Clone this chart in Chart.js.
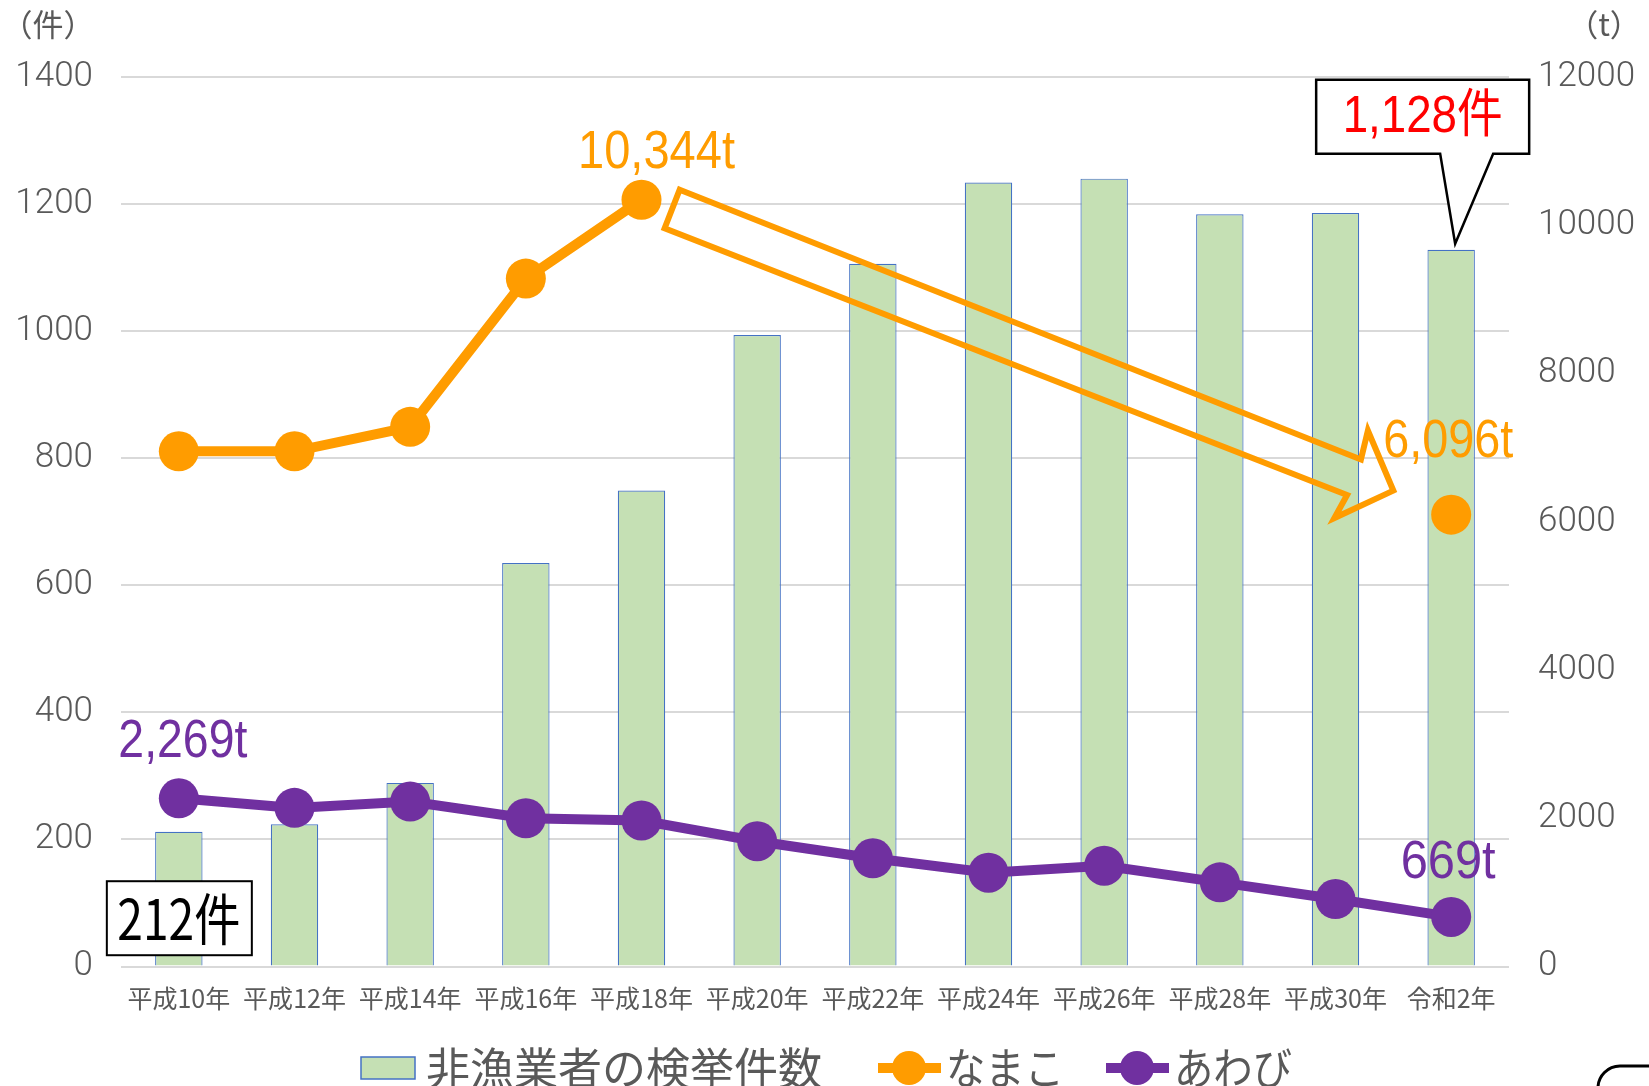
<!DOCTYPE html>
<html lang="ja">
<head>
<meta charset="utf-8">
<title>非漁業者の検挙件数と漁獲量の推移</title>
<script src="https://cdn.jsdelivr.net/npm/chart.js@4.4.1/dist/chart.umd.min.js"></script>
<style>
  html, body { margin: 0; padding: 0; background: #fff; }
  #wrap { width: 1649px; height: 1086px; position: relative; }
</style>
</head>
<body>
<div id="wrap"><canvas id="kenkyoChart"></canvas></div>
<script>
const labels = ["平成10年", "平成12年", "平成14年", "平成16年", "平成18年", "平成20年",
  "平成22年", "平成24年", "平成26年", "平成28年", "平成30年", "令和2年"];

// 非漁業者の検挙件数 (件, left axis)
const kenkyo = [212, 224, 289, 635, 749, 994, 1106, 1234, 1240, 1184, 1186, 1128];
// 漁獲量 (t, right axis)
const namako = [6950, 6950, 7280, 9280, 10344, null, null, null, null, null, null, 6096];
const awabi = [2269, 2140, 2225, 2000, 1970, 1690, 1460, 1265, 1360, 1135, 910, 669];

const leftTicks = [0, 200, 400, 600, 800, 1000, 1200, 1400];
const rightTicks = [0, 2000, 4000, 6000, 8000, 10000, 12000];

const GREEN = "#C5E0B4";
const BLUE = "#4472C4";
const ORANGE = "#FF9C00";
const PURPLE = "#7030A0";
const GRAY = "#595959";
const JP = "'Noto Sans CJK JP', sans-serif";
const NUM = "'Liberation Sans', 'Noto Sans CJK JP', sans-serif";

const fmt = (v) => v.toLocaleString("en-US");

function txt(ctx, s, x, y, size, color, w, family, align) {
  ctx.save();
  ctx.font = size + "px " + (family || NUM);
  ctx.fillStyle = color;
  ctx.textAlign = align || "center";
  ctx.textBaseline = "middle";
  if (w) ctx.fillText(s, x, y, w);
  else ctx.fillText(s, x, y);
  ctx.restore();
}

// arrow, labels and boxes on top of the data
const annotate = {
  id: "annotate",
  afterDatasetsDraw(chart) {
    const ctx = chart.ctx;
    const xs = chart.scales.x, ys = chart.scales.y, y2 = chart.scales.y2;
    const br = chart.getDatasetMeta(0).data;
    const nk = chart.getDatasetMeta(1).data;
    const aw = chart.getDatasetMeta(2).data;

    // hollow arrow (decrease of なまこ)
    const arrow = [[4.33, 10480], [10.22, 6840], [10.28, 7230], [10.50, 6420],
      [9.99, 6050], [10.10, 6360], [4.20, 9960]];
    ctx.save();
    ctx.beginPath();
    arrow.forEach((p, i) => {
      const px = xs.getPixelForValue(p[0]), py = y2.getPixelForValue(p[1]);
      if (i) ctx.lineTo(px, py); else ctx.moveTo(px, py);
    });
    ctx.closePath();
    ctx.strokeStyle = ORANGE;
    ctx.lineWidth = 6;
    ctx.lineJoin = "miter";
    ctx.stroke();
    ctx.restore();

    // value labels
    txt(ctx, fmt(namako[4]) + "t", nk[4].x + 15, nk[4].y - 47, 54, ORANGE, 157);
    txt(ctx, fmt(namako[11]) + "t", nk[11].x - 3, nk[11].y - 73, 54, ORANGE, 130);
    txt(ctx, fmt(awabi[0]) + "t", aw[0].x + 4, aw[0].y - 56, 54, PURPLE, 129);
    txt(ctx, fmt(awabi[11]) + "t", aw[11].x - 3, aw[11].y - 54, 54, PURPLE, 95);

    // 212件 box
    const bx = br[0].x, by = ys.getPixelForValue(76);
    ctx.save();
    ctx.fillStyle = "#fff";
    ctx.fillRect(bx - 72, by - 37, 145, 74);
    ctx.strokeStyle = "#000";
    ctx.lineWidth = 2;
    ctx.strokeRect(bx - 72, by - 37, 145, 74);
    ctx.restore();
    txt(ctx, kenkyo[0] + "件", bx, by + 1, 56, "#000", 123, JP);

    // 1,128件 callout
    const tx = br[11].x + 4, ty = br[11].y - 6;
    const L = tx - 139, R = tx + 74, T = ty - 164, B = ty - 90;
    ctx.save();
    ctx.beginPath();
    ctx.moveTo(L, T);
    ctx.lineTo(R, T);
    ctx.lineTo(R, B);
    ctx.lineTo(tx + 38, B);
    ctx.lineTo(tx, ty);
    ctx.lineTo(tx - 15, B);
    ctx.lineTo(L, B);
    ctx.closePath();
    ctx.fillStyle = "#fff";
    ctx.fill();
    ctx.strokeStyle = "#000";
    ctx.lineWidth = 2.5;
    ctx.stroke();
    ctx.restore();
    txt(ctx, fmt(kenkyo[11]) + "件", (L + R) / 2, (T + B) / 2 + 1, 52, "#FF0000", 160, NUM);
  },
  afterDraw(chart) {
    const ctx = chart.ctx;
    // axis unit titles
    txt(ctx, "（件）", 48, 24, 31, GRAY, null, JP);
    txt(ctx, "（t）", 1604, 24, 31, GRAY, null, JP);

    // legend
    const ly = 1068;
    const starts = [361, 878, 1106];
    chart.data.datasets.forEach((ds, i) => {
      const x0 = starts[i];
      ctx.save();
      if (ds.type === "bar") {
        ctx.fillStyle = ds.backgroundColor;
        ctx.fillRect(x0, ly - 11, 54, 22);
        ctx.strokeStyle = ds.borderColor;
        ctx.lineWidth = 1.5;
        ctx.strokeRect(x0, ly - 11, 54, 22);
        txt(ctx, ds.label, x0 + 65, ly, 44, GRAY, 403, JP, "left");
      } else {
        ctx.strokeStyle = ds.borderColor;
        ctx.lineWidth = 10;
        ctx.beginPath();
        ctx.moveTo(x0, ly);
        ctx.lineTo(x0 + 63, ly);
        ctx.stroke();
        ctx.fillStyle = ds.borderColor;
        ctx.beginPath();
        ctx.arc(x0 + 31, ly, 17, 0, Math.PI * 2);
        ctx.fill();
        txt(ctx, ds.label, x0 + 68, ly, 44, GRAY, 118, JP, "left");
      }
      ctx.restore();
    });

    // edge of the next shape, cut off in the corner
    ctx.save();
    ctx.strokeStyle = "#000";
    ctx.lineWidth = 3;
    ctx.beginPath();
    ctx.moveTo(1598, 1090);
    ctx.arcTo(1598, 1066, 1622, 1066, 22);
    ctx.lineTo(1652, 1066);
    ctx.stroke();
    ctx.restore();
  }
};

const tickFont = { family: "Roboto, 'Liberation Sans'", size: 35, weight: 300 };

const config = {
  type: "bar",
  data: {
    labels: labels,
    datasets: [
      {
        type: "bar",
        label: "非漁業者の検挙件数",
        data: kenkyo,
        yAxisID: "y",
        backgroundColor: GREEN,
        borderColor: BLUE,
        borderWidth: 1.2,
        categoryPercentage: 1,
        barPercentage: 0.41,
        order: 3,
      },
      {
        type: "line",
        label: "なまこ",
        data: namako,
        yAxisID: "y2",
        borderColor: ORANGE,
        backgroundColor: ORANGE,
        borderWidth: 10,
        pointRadius: 20,
        pointBorderWidth: 0,
        pointBackgroundColor: ORANGE,
        spanGaps: false,
        order: 1,
      },
      {
        type: "line",
        label: "あわび",
        data: awabi,
        yAxisID: "y2",
        borderColor: PURPLE,
        backgroundColor: PURPLE,
        borderWidth: 10,
        pointRadius: 20,
        pointBorderWidth: 0,
        pointBackgroundColor: PURPLE,
        order: 2,
      },
    ],
  },
  options: {
    responsive: true,
    maintainAspectRatio: false,
    animation: false,
    layout: { padding: { top: 77, left: 0, right: 0, bottom: 0 } },
    scales: {
      x: {
        grid: { display: false, drawTicks: false },
        border: { display: false },
        ticks: {
          color: GRAY,
          font: { family: JP, size: 25 },
          padding: 17,
          maxRotation: 0,
          autoSkip: false,
        },
        afterFit: (s) => { s.height = 119.5; },
      },
      y: {
        position: "left",
        min: leftTicks[0],
        max: leftTicks[leftTicks.length - 1],
        ticks: {
          stepSize: leftTicks[1] - leftTicks[0],
          color: GRAY,
          font: tickFont,
          padding: 28,
          callback: (v) => String(v),
        },
        grid: { color: "#D9D9D9", lineWidth: 2, drawTicks: false },
        border: { display: false },
        afterFit: (s) => { s.width = 121; },
      },
      y2: {
        position: "right",
        min: rightTicks[0],
        max: rightTicks[rightTicks.length - 1],
        ticks: {
          stepSize: rightTicks[1] - rightTicks[0],
          color: GRAY,
          font: tickFont,
          padding: 29,
          callback: (v) => String(v),
        },
        grid: { display: false, drawTicks: false },
        border: { display: false },
        afterFit: (s) => { s.width = 140; },
      },
    },
    plugins: {
      legend: { display: false },
      tooltip: { enabled: false },
    },
  },
  plugins: [annotate],
};

let myChart = new Chart(document.getElementById("kenkyoChart"), config);
</script>
</body>
</html>
